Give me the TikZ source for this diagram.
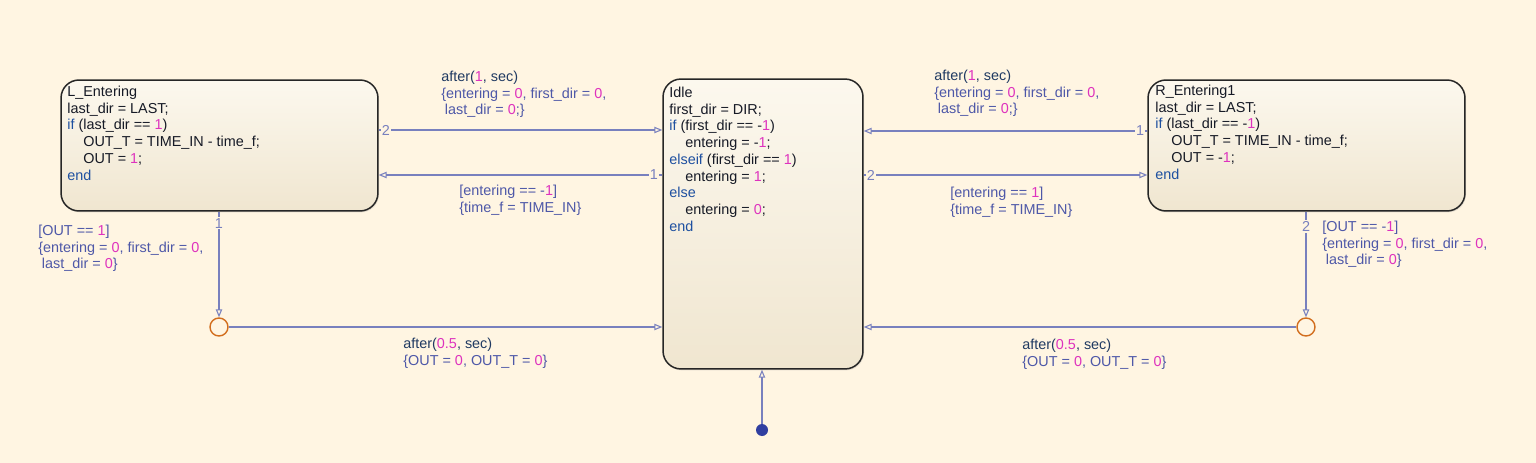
\documentclass[tikz,border=0pt]{standalone}
\usepackage{fontspec}
\setmainfont{Liberation Sans}
\usetikzlibrary{arrows.meta,shadows}
\definecolor{bg}{RGB}{255,245,226}
\definecolor{stTop}{RGB}{252,248,238}
\definecolor{stBot}{RGB}{240,230,208}
\definecolor{stText}{RGB}{22,26,38}
\definecolor{kwBlue}{RGB}{30,80,160}
\definecolor{valMag}{RGB}{222,50,190}
\definecolor{evNavy}{RGB}{32,58,98}
\definecolor{actBlue}{RGB}{78,88,168}
\definecolor{trLine}{RGB}{120,128,190}
\definecolor{juncOr}{RGB}{210,110,30}
\definecolor{dotBlue}{RGB}{48,62,160}
\newcommand{\kwd}[1]{\textcolor{kwBlue}{#1}}
\newcommand{\val}[1]{\textcolor{valMag}{#1}}
\newcommand{\ev}[1]{\textcolor{evNavy}{#1}}
\newcommand{\ind}{\hspace*{0.32cm}}
\begin{document}
\begin{tikzpicture}[x=0.02cm,y=-0.02cm,
  state/.style={draw=black!85,line width=0.85pt,rounded corners=0.36cm,
    top color=stTop,bottom color=stBot,
    drop shadow={opacity=0.2,shadow xshift=0.6pt,shadow yshift=-0.8pt}},
  code/.style={anchor=north west,align=left,inner sep=0,text=stText,
    font=\fontsize{8.2}{9.55}\selectfont},
  lbl/.style={anchor=north west,align=left,inner sep=0,text=actBlue,
    font=\fontsize{8.2}{9.55}\selectfont},
  tr/.style={draw=trLine,line width=0.6pt,-{Triangle[open,length=4.5pt,width=3.6pt]}},
  nr/.style={fill=bg,inner sep=0.6pt,text=trLine,font=\fontsize{8.2}{9.55}\selectfont},
  junc/.style={circle,draw=juncOr,line width=0.8pt,minimum size=0.36cm,inner sep=0},
  dot/.style={circle,fill=dotBlue,minimum size=0.24cm,inner sep=0}]
\fill[bg] (0,0) rectangle (1536,463);
\useasboundingbox (0,0) rectangle (1536,463);

\node[state,minimum width=6.34cm,minimum height=2.62cm] (L) at (219.5,145.5) {};
\node[state,minimum width=4cm,minimum height=5.8cm] (Idle) at (763,224) {};
\node[state,minimum width=6.34cm,minimum height=2.62cm] (R) at (1306.5,145.5) {};

\node[code] (Ltxt) at (67,85.5) {L\_Entering\\
last\_dir = LAST;\\
\kwd{if} (last\_dir == \val{1})\\
\ind OUT\_T = TIME\_IN - time\_f;\\
\ind OUT = \val{1};\\
\kwd{end}};
\node[code] (Itxt) at (669,86.5) {Idle\\
first\_dir = DIR;\\
\kwd{if} (first\_dir == -\val{1})\\
\ind entering = -\val{1};\\
\kwd{elseif} (first\_dir == \val{1})\\
\ind entering = \val{1};\\
\kwd{else}\\
\ind entering = \val{0};\\
\kwd{end}};
\node[code] (Rtxt) at (1155,84.5) {R\_Entering1\\
last\_dir = LAST;\\
\kwd{if} (last\_dir == -\val{1})\\
\ind OUT\_T = TIME\_IN - time\_f;\\
\ind OUT = -\val{1};\\
\kwd{end}};

\node[junc] (jL) at (219,327) {};
\node[junc] (jR) at (1306,327) {};
\node[dot] (d0) at (762,430) {};

\draw[tr] (L.east |- 0,130) -- node[nr,pos=0.025]{2} (Idle.west |- 0,130);
\draw[tr] (Idle.west |- 0,175) -- node[nr,pos=0.03]{1} (L.east |- 0,175);
\draw[tr] (R.west |- 0,131) -- node[nr,pos=0.025]{1} (Idle.east |- 0,131);
\draw[tr] (Idle.east |- 0,175) -- node[nr,pos=0.025]{2} (R.west |- 0,175);
\draw[tr] (L.south -| jL) -- node[nr,pos=0.11]{1} (jL.north);
\draw[tr] (R.south -| jR) -- node[nr,pos=0.14]{2} (jR.north);
\draw[tr] (jL.east) -- (Idle.west |- jL);
\draw[tr] (jR.west) -- (Idle.east |- jR);
\draw[tr] (d0.north) -- (d0 |- Idle.south);

\node[lbl] (a1L) at (441,70.5) {\ev{after(}\val{1}\ev{, sec)}\\
\{entering = \val{0}, first\_dir = \val{0},\\
\hspace*{0.25em}last\_dir = \val{0};\}};
\node[lbl] (g1L) at (459,184.5) {[entering == -\val{1}]\\
\{time\_f = TIME\_IN\}};
\node[lbl] (a1R) at (934,69.5) {\ev{after(}\val{1}\ev{, sec)}\\
\{entering = \val{0}, first\_dir = \val{0},\\
\hspace*{0.25em}last\_dir = \val{0};\}};
\node[lbl] (g1R) at (950,186.5) {[entering == \val{1}]\\
\{time\_f = TIME\_IN\}};
\node[lbl] (gL) at (38,224.5) {[OUT == \val{1}]\\
\{entering = \val{0}, first\_dir = \val{0},\\
\hspace*{0.25em}last\_dir = \val{0}\}};
\node[lbl] (gR) at (1322,220.5) {[OUT == -\val{1}]\\
\{entering = \val{0}, first\_dir = \val{0},\\
\hspace*{0.25em}last\_dir = \val{0}\}};
\node[lbl] (a5L) at (403,337.5) {\ev{after(}\val{0.5}\ev{, sec)}\\
\{OUT = \val{0}, OUT\_T = \val{0}\}};
\node[lbl] (a5R) at (1022,338.5) {\ev{after(}\val{0.5}\ev{, sec)}\\
\{OUT = \val{0}, OUT\_T = \val{0}\}};
\end{tikzpicture}
\end{document}
